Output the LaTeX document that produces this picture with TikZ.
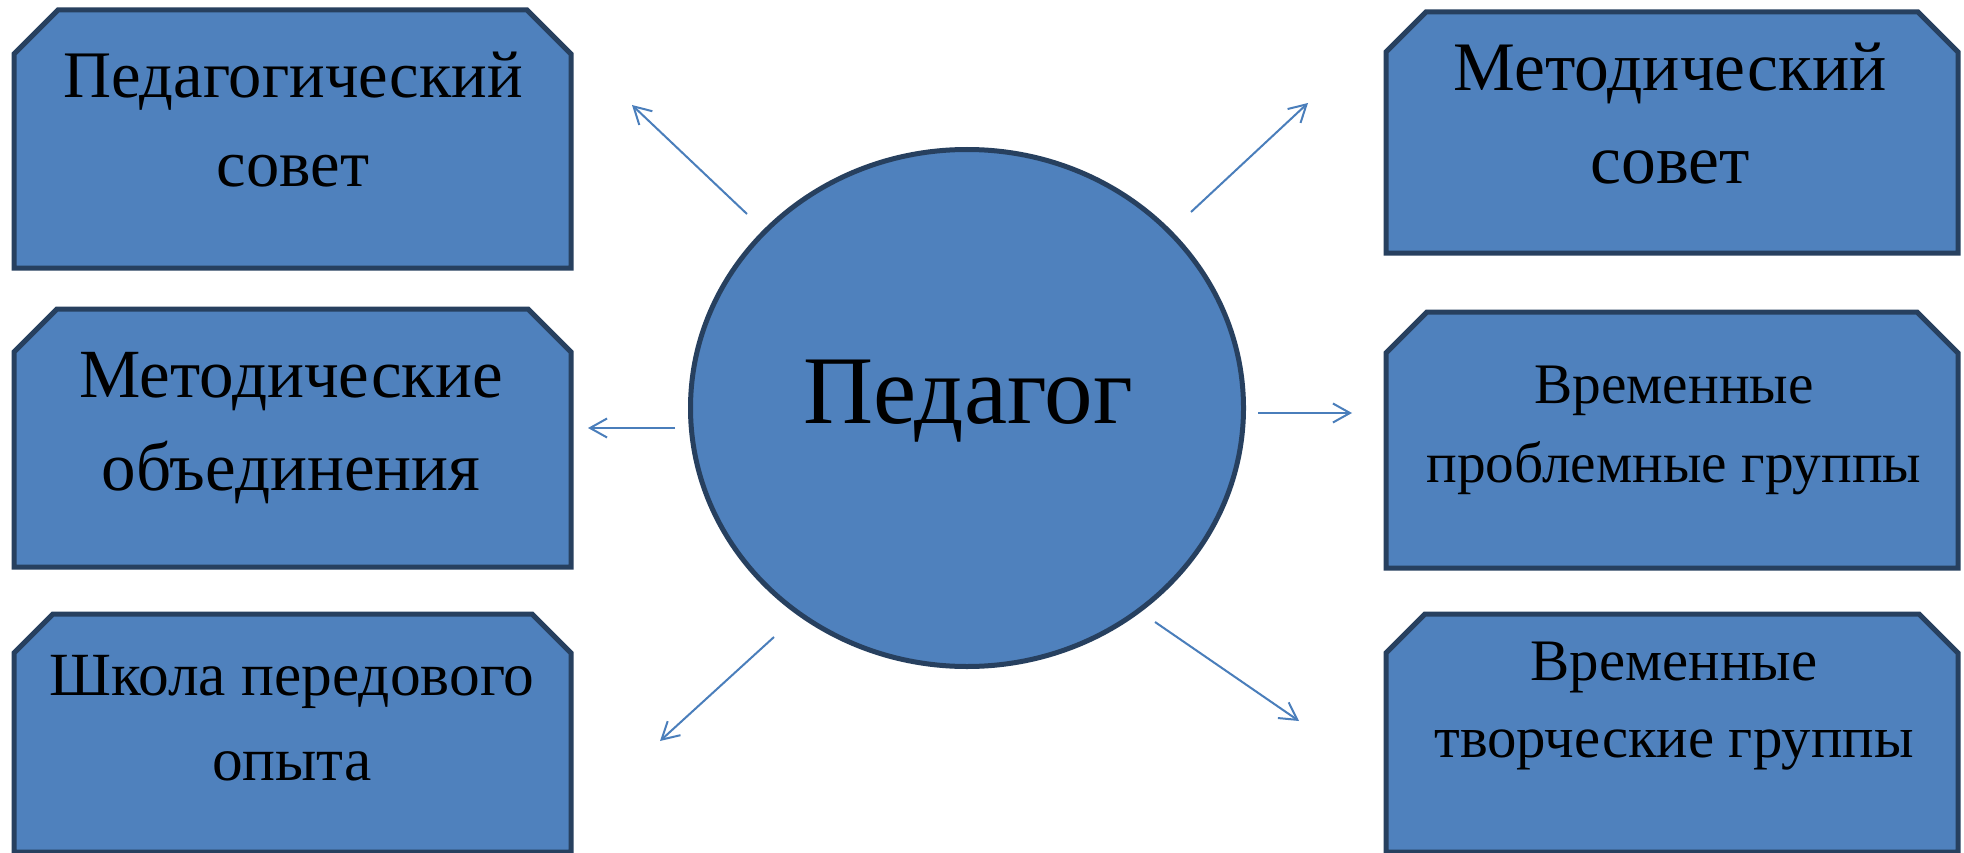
\documentclass[tikz,border=0pt]{standalone}
\usepackage{fontspec}
\setmainfont{Liberation Serif}
\usetikzlibrary{shapes.geometric,arrows.meta}
\definecolor{fillblue}{HTML}{4F81BD}
\definecolor{edgeblue}{HTML}{27405F}
\definecolor{arrowblue}{HTML}{4A7EBB}
% chamfered box: name, x1, y1, x2, y2, chamfer
\newcommand{\chambox}[6]{%
  \draw[boxline] (#2,#3+#6) -- (#2+#6,#3) -- (#4-#6,#3) -- (#4,#3+#6) -- (#4,#5) -- (#2,#5) -- cycle;
  \coordinate (#1) at ({(#2+#4)/2},{(#3+#5)/2});}
\begin{document}
\begin{tikzpicture}[x=1pt,y=-1pt,
  boxline/.style={draw=edgeblue, fill=fillblue, line width=5pt, line join=miter},
  boxtext/.style={align=center, anchor=base, inner sep=0pt},
  pointer/.style={draw=arrowblue, line width=2pt, -{Straight Barb[length=17pt,width=19pt,line width=2pt]}}
]
\useasboundingbox (0,0) rectangle (1964,853);
\fill[white] (0,0) rectangle (1964,853);

% boxes
\chambox{b1}{14}{10}{571}{268}{44}
\chambox{b2}{14}{309}{571}{567}{43}
\chambox{b3}{14}{614}{571}{852}{39}
\chambox{b4}{1386}{12}{1958}{253}{40}
\chambox{b5}{1386}{312}{1958}{568}{41}
\chambox{b6}{1386}{614}{1958}{852}{39}

% texts (anchor = baseline of last line)
\node[boxtext, font=\fontsize{66.5}{89}\selectfont] (t1) at (293,187) {Педагогический\\совет};
\node[boxtext, font=\fontsize{69}{93}\selectfont] (t2) at (291,490) {Методические\\объединения};
\node[boxtext, font=\fontsize{61.4}{85}\selectfont] (t3) at (292,780) {Школа передового\\опыта};
\node[boxtext, font=\fontsize{69.5}{93}\selectfont] (t4) at (1670,184) {Методический\\совет};
\node[boxtext, font=\fontsize{57.3}{79}\selectfont] (t5) at (1674,482) {Временные\\проблемные группы};
\node[boxtext, font=\fontsize{58.8}{77}\selectfont] (t6) at (1674,757) {Временные\\творческие группы};

% ellipse
\node[ellipse, draw=edgeblue, fill=fillblue, line width=5pt, minimum width=553pt, minimum height=517pt] (ped) at (967,408) {};
\node[anchor=base, inner sep=0pt, font=\fontsize{97}{110}\selectfont] (pt) at (968,423) {Педагог};

% arrow ends
\coordinate (s1) at (747,214); \coordinate (e1) at (632,105);
\coordinate (s2) at (1191,212); \coordinate (e2) at (1308,103);
\coordinate (s3) at (675,428); \coordinate (e3) at (588,428);
\coordinate (s4) at (1258,413); \coordinate (e4) at (1352,413);
\coordinate (s5) at (774,637); \coordinate (e5) at (660,741);
\coordinate (s6) at (1155,622); \coordinate (e6) at (1299,721);

\draw[pointer] (s1) -- (e1);
\draw[pointer] (s2) -- (e2);
\draw[pointer] (s3) -- (e3);
\draw[pointer] (s4) -- (e4);
\draw[pointer] (s5) -- (e5);
\draw[pointer] (s6) -- (e6);
\end{tikzpicture}
\end{document}
